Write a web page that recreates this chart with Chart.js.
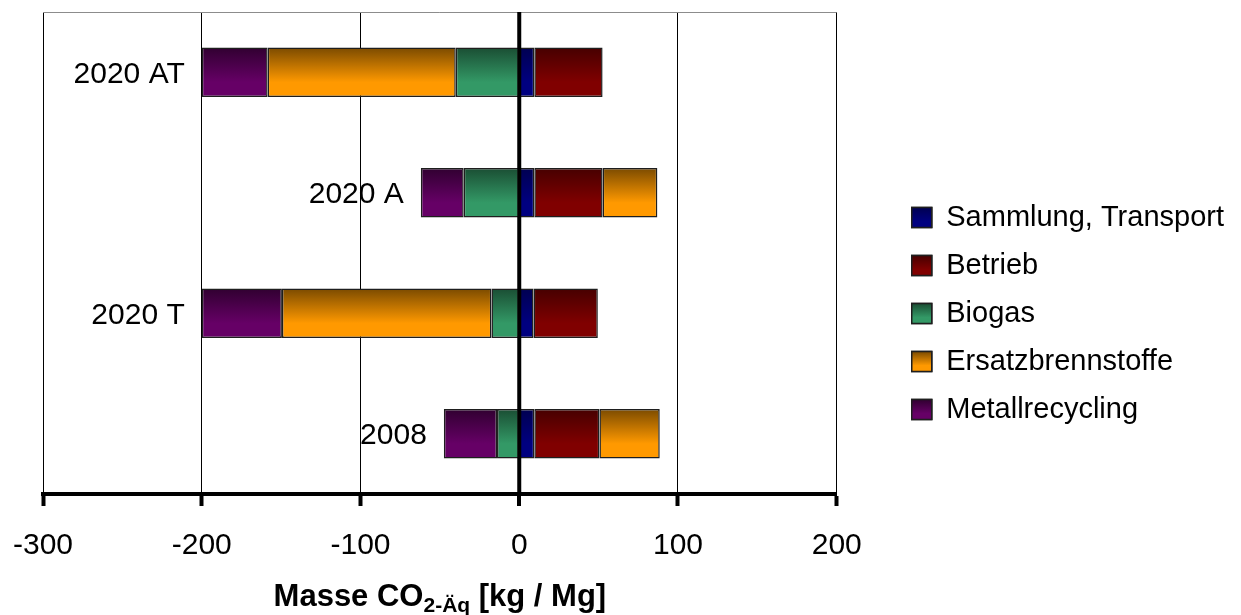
<!DOCTYPE html>
<html>
<head>
<meta charset="utf-8">
<script src="https://cdn.jsdelivr.net/npm/chart.js@4/dist/chart.umd.min.js"></script>
<style>
  html, body { margin: 0; padding: 0; background: #fff; }
  #wrap { width: 1241px; height: 615px; }
</style>
</head>
<body>
<div id="wrap"><canvas id="grafico"></canvas></div>
<script>
// categories top to bottom
const kategorien = ['2020 AT', '2020 A', '2020 T', '2008'];

// values in kg CO2-Äq per Mg
const sammlung = [9.5, 9.5, 9, 9.5];
const betrieb = [43, 43, 40.5, 41];
const biogas = [-40, -35, -17.5, -14];
const ersatz = [-118.5, 34.5, -132, 38];
const metall = [-41.5, -27, -50.5, -33.5];

const xTicks = [-300, -200, -100, 0, 100, 200];

// [dark top, colour bottom]
const farben = {
    sammlung: ['#000050', '#000080'],
    betrieb: ['#460000', '#800000'],
    biogas: ['#1a4d33', '#339966'],
    ersatz: ['#7a4a00', '#ff9900'],
    metall: ['#300030', '#660066']
};

const font = "'Liberation Sans', Arial, sans-serif";

function verlauf(paar) {
    return function (c) {
        const chart = c.chart;
        const y = chart.scales.y;
        if (!chart.chartArea || !y || c.dataIndex === undefined) return paar[1];
        const mitte = y.getPixelForValue(c.dataIndex);
        const h = 25;
        const g = chart.ctx.createLinearGradient(0, mitte - h, 0, mitte + h);
        g.addColorStop(0, paar[0]);
        g.addColorStop(0.7, paar[1]);
        g.addColorStop(1, paar[1]);
        return g;
    };
}

function serie(name, werte, paar) {
    return {
        label: name,
        data: werte,
        yAxisID: 'y',
        backgroundColor: verlauf(paar),
        borderColor: '#1e1e1e',
        borderWidth: 1.5,
        borderSkipped: false,
        categoryPercentage: 1,
        barPercentage: 0.41
    };
}

// labels left of each bar, zero line, frame, axis title, legend boxes
const extras = {
    id: 'extras',
    afterDatasetsDraw(chart) {
        const ctx = chart.ctx;
        const a = chart.chartArea;
        const x = chart.scales.x;
        const y = chart.scales.y;
        ctx.save();
        // top frame
        ctx.strokeStyle = '#8c8c8c';
        ctx.lineWidth = 1;
        ctx.beginPath();
        ctx.moveTo(a.left, a.top + 0.5);
        ctx.lineTo(a.right, a.top + 0.5);
        ctx.stroke();
        // zero line
        const x0 = x.getPixelForValue(0);
        ctx.strokeStyle = '#000';
        ctx.lineWidth = 4;
        ctx.beginPath();
        ctx.moveTo(x0, a.top);
        ctx.lineTo(x0, a.bottom);
        ctx.stroke();
        // category labels
        ctx.fillStyle = '#000';
        ctx.font = '30px ' + font;
        ctx.textAlign = 'right';
        ctx.textBaseline = 'middle';
        kategorien.forEach((k, i) => {
            let neg = 0;
            [sammlung, betrieb, biogas, ersatz, metall].forEach(s => { if (s[i] < 0) neg += s[i]; });
            ctx.fillText(k, x.getPixelForValue(neg) - 17, y.getPixelForValue(i) + 2);
        });
        ctx.restore();
    },
    afterDraw(chart) {
        const ctx = chart.ctx;
        const a = chart.chartArea;
        ctx.save();
        ctx.fillStyle = '#000';
        ctx.textBaseline = 'alphabetic';
        ctx.textAlign = 'left';
        const teile = [
            ['Masse CO', 'bold 31px ' + font, 0],
            ['2-Äq', 'bold 21px ' + font, 6],
            [' [kg / Mg]', 'bold 31px ' + font, 0]
        ];
        let breite = 0;
        teile.forEach(t => { ctx.font = t[1]; breite += ctx.measureText(t[0]).width; });
        let px = (a.left + a.right) / 2 - breite / 2;
        teile.forEach(t => {
            ctx.font = t[1];
            ctx.fillText(t[0], px, 606 + t[2]);
            px += ctx.measureText(t[0]).width;
        });
        // gradient legend boxes
        const lg = chart.legend;
        if (lg && lg.legendHitBoxes) {
            const paare = [farben.sammlung, farben.betrieb, farben.biogas, farben.ersatz, farben.metall];
            lg.legendHitBoxes.forEach((hb, i) => {
                const bh = 20;
                const top = hb.top + (hb.height - bh) / 2;
                const g = ctx.createLinearGradient(0, top, 0, top + bh);
                g.addColorStop(0, paare[i][0]);
                g.addColorStop(0.7, paare[i][1]);
                g.addColorStop(1, paare[i][1]);
                ctx.fillStyle = g;
                ctx.fillRect(hb.left, top, 20, bh);
                ctx.strokeStyle = '#1e1e1e';
                ctx.lineWidth = 1.5;
                ctx.strokeRect(hb.left, top, 20, bh);
            });
        }
        ctx.restore();
    }
};

const chart = new Chart(document.getElementById('grafico').getContext('2d'), {
    type: 'bar',
    data: {
        labels: kategorien,
        datasets: [
            serie('Sammlung, Transport', sammlung, farben.sammlung),
            serie('Betrieb', betrieb, farben.betrieb),
            serie('Biogas', biogas, farben.biogas),
            serie('Ersatzbrennstoffe', ersatz, farben.ersatz),
            serie('Metallrecycling', metall, farben.metall)
        ]
    },
    options: {
        indexAxis: 'y',
        responsive: true,
        maintainAspectRatio: false,
        animation: false,
        layout: { padding: { top: 12, right: 7, bottom: 0, left: 0 } },
        scales: {
            x: {
                stacked: true,
                min: xTicks[0],
                max: xTicks[xTicks.length - 1],
                afterBuildTicks: s => { s.ticks = xTicks.map(v => ({ value: v })); },
                ticks: {
                    color: '#000',
                    font: { family: font, size: 30 },
                    padding: 22,
                    maxRotation: 0
                },
                grid: {
                    color: '#000',
                    lineWidth: c => (c.tick && c.tick.value === 0 ? 0 : 1),
                    tickColor: '#000',
                    tickWidth: 4,
                    tickLength: 12
                },
                border: { display: true, color: '#000', width: 4 },
                afterFit: s => { s.height = 121; s.paddingLeft = 0; s.paddingRight = 0; }
            },
            y: {
                stacked: true,
                ticks: { display: false },
                grid: { display: false },
                border: { display: false },
                afterFit: s => { s.width = 43; }
            },
            yr: {
                type: 'linear',
                position: 'right',
                ticks: { display: false },
                grid: { display: false },
                border: { display: false },
                afterFit: s => { s.width = 56; }
            }
        },
        plugins: {
            legend: {
                position: 'right',
                align: 'center',
                maxWidth: 420,
                labels: {
                    color: '#000',
                    font: { family: font, size: 29 },
                    boxWidth: 20,
                    boxHeight: 20,
                    padding: 19
                }
            },
            tooltip: { enabled: false }
        }
    },
    plugins: [extras]
});
</script>
</body>
</html>
